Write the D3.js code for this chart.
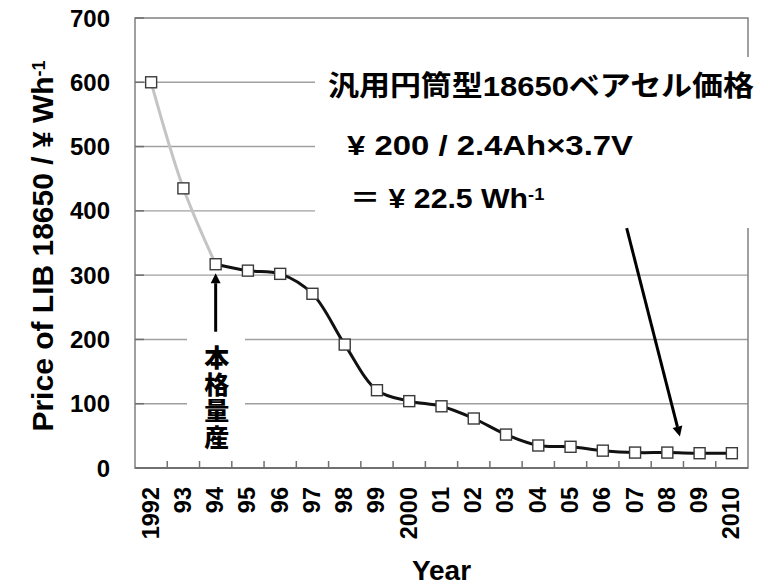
<!DOCTYPE html>
<html><head><meta charset="utf-8">
<script src="https://cdn.jsdelivr.net/npm/d3@7"></script>
<style>
body{margin:0;background:#fff}
text{font-family:"Liberation Sans",Arial,"Noto Sans CJK JP",sans-serif;font-weight:bold;fill:#000}
</style>
</head><body><svg id="c" width="778" height="588"></svg>
<script>
// ---- data ----
const years = [1992,1993,1994,1995,1996,1997,1998,1999,2000,2001,2002,2003,2004,2005,2006,2007,2008,2009,2010];
const yearLabels = ["1992","93","94","95","96","97","98","99","2000","01","02","03","04","05","06","07","08","09","2010"];
const earlyYears = [1992,1993,1994];
const earlyPrices = [600,435,317];
const massYears = [1994,1995,1996,1997,1998,1999,2000,2001,2002,2003,2004,2005,2006,2007,2008,2009,2010];
const massPrices = [317,307,302,271,192,121,104,96,77,52,35,33,27,24,24,23,23];
const yTicks = [0,100,200,300,400,500,600,700];
const gridTicks = [100,200,300,400,500,600];
const yTitle = "Price of LIB 18650 / ¥ Wh";
const yTitleSup = "-1";
const xTitle = "Year";
const massLabel = "本格量産";
const noteLines = ["汎用円筒型18650ベアセル価格", "¥ 200 / 2.4Ah×3.7V"];
const noteLine3 = "＝ ¥ 22.5 Wh";
const noteLine3Sup = "-1";

// ---- layout ----
const L = 135, R = 748, T = 18, B = 468;
const svg = d3.select("#c");
svg.append("rect").attr("width",778).attr("height",588).attr("fill","#fff");

const x = d3.scaleBand().domain(years).range([L, R]).padding(0);
const xc = d => x(d) + x.bandwidth()/2;
const xi = d3.scaleLinear().domain([0, years.length]).range([L, R]); // index scale for annotations
const y = d3.scaleLinear().domain([0, 700]).range([B, T]);

// gridlines
svg.append("g").selectAll("line").data(gridTicks).join("line")
  .attr("x1", L).attr("x2", R).attr("y1", d => y(d)).attr("y2", d => y(d))
  .attr("stroke", "#a0a0a0").attr("stroke-width", 1.4);

// frame
svg.append("rect").attr("x", L).attr("y", T).attr("width", R - L).attr("height", B - T)
  .attr("fill", "none").attr("stroke", "#808080").attr("stroke-width", 1.5);
svg.append("line").attr("x1", L).attr("x2", R).attr("y1", B).attr("y2", B)
  .attr("stroke", "#707070").attr("stroke-width", 2);

// left inner ticks
svg.append("g").selectAll("line").data(yTicks).join("line")
  .attr("x1", L).attr("x2", L + 9).attr("y1", d => y(d)).attr("y2", d => y(d))
  .attr("stroke", "#707070").attr("stroke-width", 1.5);
// bottom inner ticks at band boundaries
svg.append("g").selectAll("line").data(years.slice(1)).join("line")
  .attr("x1", d => x(d)).attr("x2", d => x(d)).attr("y1", B).attr("y2", B - 7)
  .attr("stroke", "#707070").attr("stroke-width", 1.5);

// white boxes behind annotations
svg.append("rect").attr("x", 315).attr("y", 57).attr("width", 460).attr("height", 171).attr("fill", "#fff");
svg.append("rect").attr("x", 187).attr("y", 336).attr("width", 58).attr("height", 120).attr("fill", "#fff");

// lines
const line = d3.line().curve(d3.curveCatmullRom.alpha(0.5));
svg.append("path")
  .attr("d", line(earlyYears.map((d,i) => [xc(d), y(earlyPrices[i])])))
  .attr("fill", "none").attr("stroke", "#c4c4c4").attr("stroke-width", 3);
svg.append("path")
  .attr("d", line(massYears.map((d,i) => [xc(d), y(massPrices[i])])))
  .attr("fill", "none").attr("stroke", "#111").attr("stroke-width", 3);

// markers
const pts = earlyYears.map((d,i)=>({yr:d, v:earlyPrices[i]})).concat(massYears.slice(1).map((d,i)=>({yr:d, v:massPrices[i+1]})));
svg.append("g").selectAll("rect").data(pts).join("rect")
  .attr("x", d => xc(d.yr) - 5.5).attr("y", d => y(d.v) - 5.5)
  .attr("width", 11).attr("height", 11)
  .attr("fill", "#fff").attr("stroke", "#3a3a3a").attr("stroke-width", 1.4);

// y tick labels
svg.append("g").selectAll("text").data(yTicks).join("text")
  .attr("x", 110).attr("y", d => y(d)).attr("dy", "0.36em")
  .attr("text-anchor", "end").attr("font-size", 24).text(d => d);

// x tick labels
svg.append("g").selectAll("text").data(years).join("text")
  .attr("transform", d => `translate(${xc(d) - 1},${B + 19}) rotate(-90)`)
  .attr("dy", "0.36em").attr("text-anchor", "end").attr("font-size", 23.5)
  .text((d,i) => yearLabels[i]);

// axis titles
const yt = svg.append("text").attr("transform", `translate(53,246) rotate(-90)`)
  .attr("text-anchor", "middle").attr("font-size", 30);
yt.append("tspan").text(yTitle);
yt.append("tspan").attr("dy", "-0.45em").attr("font-size", 18).text(yTitleSup);

svg.append("text").attr("x", (L + R)/2).attr("y", 580).attr("text-anchor", "middle")
  .attr("font-size", 28).text(xTitle);

// 本格量産 vertical label
svg.append("text")
  .attr("x", xc(1994) + 1).attr("y", 345)
  .style("writing-mode", "vertical-rl")
  .style("font-family", "'Noto Sans CJK JP',sans-serif")
  .style("font-weight", 900)
  .style("letter-spacing", "1.5px")
  .attr("font-size", 25)
  .text(massLabel);

// arrows
function arrow(x1, y1, x2, y2) {
  const ang = Math.atan2(y2 - y1, x2 - x1), hl = 10, hw = 5;
  const bx = x2 - hl*Math.cos(ang), by = y2 - hl*Math.sin(ang);
  svg.append("line").attr("x1", x1).attr("y1", y1).attr("x2", bx).attr("y2", by)
    .attr("stroke", "#000").attr("stroke-width", 3);
  const px = -Math.sin(ang)*hw, py = Math.cos(ang)*hw;
  svg.append("path").attr("d", `M${x2},${y2}L${bx+px},${by+py}L${bx-px},${by-py}Z`).attr("fill", "#000");
}
arrow(xc(1994), y(212), xc(1994), y(303));
arrow(xi(15.24), y(373), xi(16.89), y(49));

// note text
svg.append("text").attr("x", 328).attr("y", 96).attr("font-size", 28)
  .attr("textLength", 426).attr("lengthAdjust", "spacingAndGlyphs").text(noteLines[0]);
svg.append("text").attr("x", 347).attr("y", 155).attr("font-size", 28)
  .attr("textLength", 286).attr("lengthAdjust", "spacingAndGlyphs").text(noteLines[1]);
const n3 = svg.append("text").attr("transform", "translate(350,208) scale(1.08,1)").attr("font-size", 28);
n3.append("tspan").text(noteLine3);
n3.append("tspan").attr("dy", "-0.45em").attr("font-size", 17).text(noteLine3Sup);
</script>
</body></html>
